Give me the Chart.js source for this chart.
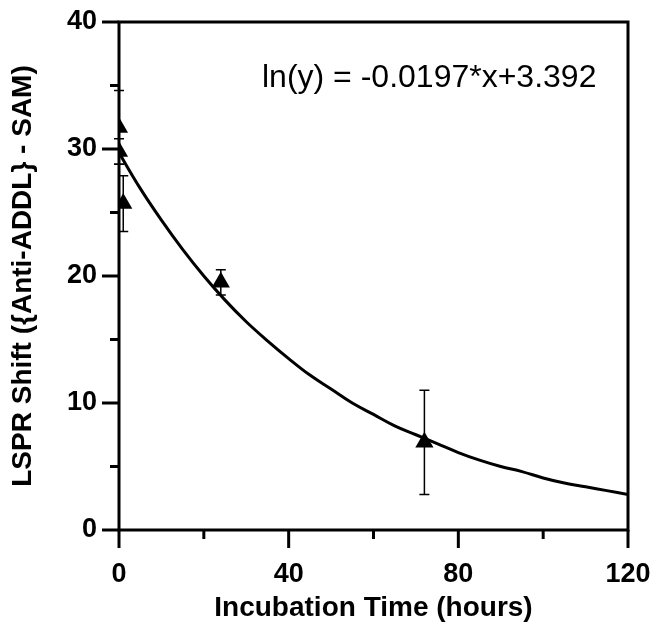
<!DOCTYPE html>
<html>
<head>
<meta charset="utf-8">
<script src="https://cdn.jsdelivr.net/npm/chart.js@4/dist/chart.umd.min.js"></script>
<style>
  html, body { margin: 0; padding: 0; background: #fff; }
  #wrap { width: 657px; height: 625px; }
</style>
</head>
<body>
<div id="wrap"><canvas id="c" width="657" height="625"></canvas></div>
<script>
// Measured points (hours, LSPR shift) with error bars
const timeHours = [0, 0, 1, 24, 72];
const shiftValues = [31.7, 29.8, 25.7, 19.5, 6.9];
const shiftErrors = [2.9, 1.0, 2.2, 1.0, 4.1];

// Fitted curve
const fitX = [0, 5, 10, 15, 20, 25, 30, 35, 40, 45, 50, 55, 60, 65, 70, 75, 80, 85, 90, 95, 100, 105, 110, 115, 120];
const fitY = [29.7, 26.9, 24.4, 22.1, 20.0, 18.1, 16.4, 14.9, 13.5, 12.2, 11.1, 10.0, 9.1, 8.2, 7.5, 6.8, 6.1, 5.5, 5.0, 4.6, 4.1, 3.7, 3.4, 3.1, 2.8];

const xMajorTicks = [0, 40, 80, 120];
const yMajorTicks = [0, 10, 20, 30, 40];
const equationText = 'ln(y) = -0.0197*x+3.392';

const FONT = '"Liberation Sans", Arial, Helvetica, sans-serif';

const frame = {
  id: 'frame',
  afterDatasetsDraw(chart) {
    const ctx = chart.ctx;
    const xs = chart.scales.x, ys = chart.scales.y;
    const a = chart.chartArea;
    ctx.save();
    // error bars
    ctx.strokeStyle = '#000';
    ctx.lineWidth = 1.5;
    for (let i = 0; i < timeHours.length; i++) {
      const px = xs.getPixelForValue(timeHours[i]);
      const top = ys.getPixelForValue(shiftValues[i] + shiftErrors[i]);
      const bot = ys.getPixelForValue(shiftValues[i] - shiftErrors[i]);
      ctx.beginPath();
      ctx.moveTo(px, top); ctx.lineTo(px, bot);
      ctx.moveTo(px - 5, top); ctx.lineTo(px + 5, top);
      ctx.moveTo(px - 5, bot); ctx.lineTo(px + 5, bot);
      ctx.stroke();
    }
    // frame
    ctx.lineWidth = 3;
    ctx.lineCap = 'square';
    ctx.beginPath();
    ctx.rect(a.left, a.top, a.right - a.left, a.bottom - a.top);
    ctx.stroke();
    ctx.lineCap = 'butt';
    // x ticks
    for (let v = 0; v <= 120; v += 20) {
      const px = xs.getPixelForValue(v);
      const len = xMajorTicks.includes(v) ? 18 : 9;
      ctx.beginPath();
      ctx.moveTo(px, a.bottom); ctx.lineTo(px, a.bottom + len);
      ctx.stroke();
    }
    // y ticks
    for (let v = 0; v <= 40; v += 5) {
      const py = ys.getPixelForValue(v);
      const len = yMajorTicks.includes(v) ? 17 : 9;
      ctx.beginPath();
      ctx.moveTo(a.left, py); ctx.lineTo(a.left - len, py);
      ctx.stroke();
    }
    // equation
    ctx.fillStyle = '#000';
    ctx.font = '32px ' + FONT;
    ctx.textAlign = 'left';
    ctx.textBaseline = 'alphabetic';
    ctx.fillText(equationText, 262, 87);
    ctx.restore();
  }
};

function zeroPad(s) { s.paddingLeft = 0; s.paddingRight = 0; s.paddingTop = 0; s.paddingBottom = 0; }

new Chart(document.getElementById('c'), {
  type: 'scatter',
  data: {
    datasets: [
      {
        type: 'line',
        data: fitX.map((x, i) => ({ x, y: fitY[i] })),
        borderColor: '#000',
        borderWidth: 3,
        pointRadius: 0,
        tension: 0.4,
        fill: false,
        order: 2
      },
      {
        data: timeHours.map((x, i) => ({ x, y: shiftValues[i] })),
        pointStyle: 'triangle',
        pointRadius: 10.5,
        backgroundColor: '#000',
        borderColor: '#000',
        borderWidth: 0,
        order: 1
      }
    ]
  },
  options: {
    responsive: false,
    animation: false,
    devicePixelRatio: 1,
    layout: { padding: { top: 22, right: 29, left: 0, bottom: 0 } },
    plugins: { legend: { display: false }, tooltip: { enabled: false } },
    scales: {
      x: {
        type: 'linear', min: 0, max: 120,
        border: { display: false },
        grid: { display: false, drawTicks: false },
        ticks: {
          stepSize: 40, color: '#000', padding: 28,
          font: { family: FONT, size: 27, weight: 'bold' },
          maxRotation: 0, autoSkip: false
        },
        title: {
          display: true, text: 'Incubation Time (hours)', color: '#000',
          font: { family: FONT, size: 28, weight: 'bold' },
          padding: { top: 0, bottom: 0 }
        },
        afterFit(s) { s.height = 95; zeroPad(s); }
      },
      y: {
        type: 'linear', min: 0, max: 40,
        border: { display: false },
        grid: { display: false, drawTicks: false },
        ticks: {
          stepSize: 10, color: '#000', padding: 22,
          font: { family: FONT, size: 27, weight: 'bold' }
        },
        title: {
          display: true, text: 'LSPR Shift ({Anti-ADDL} - SAM)', color: '#000',
          font: { family: FONT, size: 28, weight: 'bold' },
          padding: { top: 6, bottom: 0 }
        },
        afterFit(s) { s.width = 119; zeroPad(s); }
      }
    }
  },
  plugins: [frame]
});
</script>
</body>
</html>
